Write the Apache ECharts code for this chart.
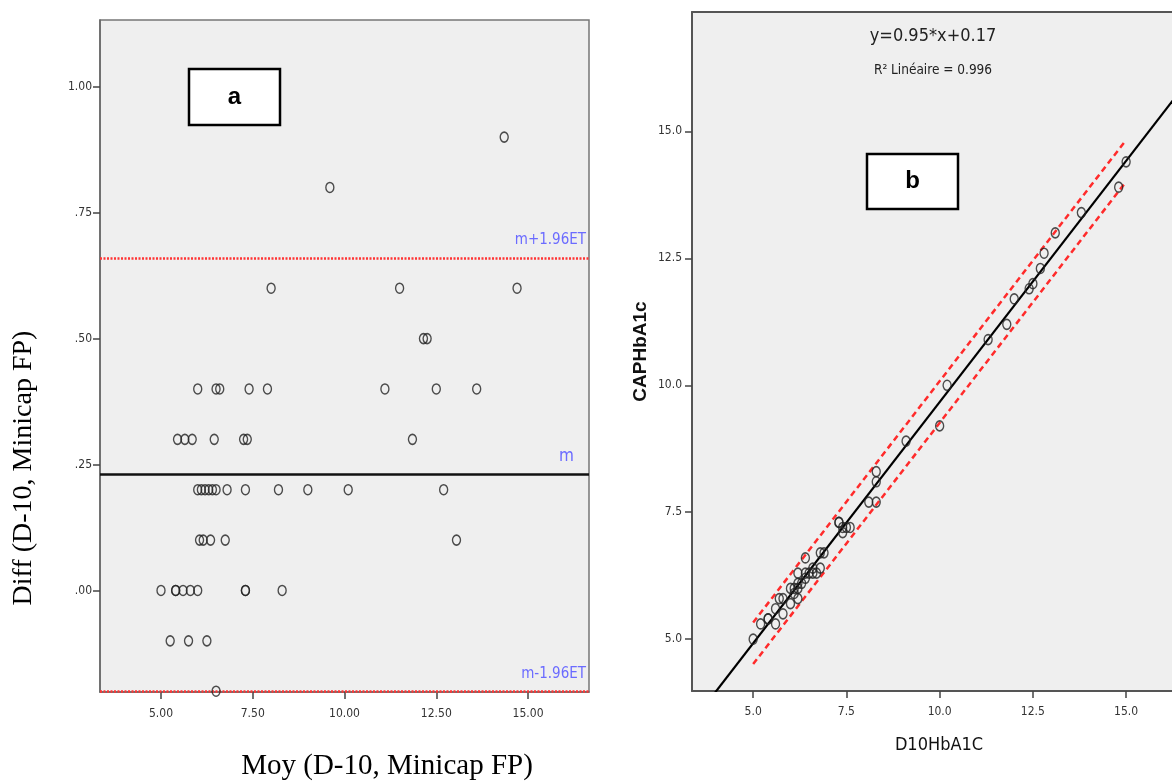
<!DOCTYPE html>
<html><head><meta charset="utf-8">
<script src="https://cdn.jsdelivr.net/npm/echarts@6/dist/echarts.min.js"></script>
<style>html,body{margin:0;padding:0;background:#fff}#c{width:1172px;height:782px}</style>
</head><body><div id="c"></div>
<script>
// ---- Panel a : Bland-Altman (mean vs difference) ----
const moy  = [14.70,14.35,13.60,13.05,12.70,12.50,12.25,12.15,11.85,11.50,11.10,10.10,9.60,9.00,8.30,8.20,8.00,7.90,7.40,7.35,7.25,7.30,7.30,7.30,6.80,6.75,6.60,6.50,6.50,6.45,6.40,6.50,6.35,6.30,6.20,6.25,6.15,6.10,6.00,6.05,6.00,6.00,5.85,5.80,5.65,5.75,5.60,5.45,5.40,5.40,5.25,5.00];
const diff = [0.6,0.9,0.4,0.1,0.2,0.4,0.5,0.5,0.3,0.6,0.4,0.2,0.8,0.2,0.0,0.2,0.6,0.4,0.4,0.3,0.3,0.2,0.0,0.0,0.2,0.1,0.4,0.4,0.2,0.3,0.2,-0.2,0.1,0.2,0.2,-0.1,0.1,0.2,0.4,0.1,0.2,0.0,0.3,0.0,0.3,-0.1,0.0,0.3,0.0,0.0,-0.1,0.0];
const xTicksA = [5, 7.5, 10, 12.5, 15];
const yTicksA = [0, 0.25, 0.5, 0.75, 1];
const meanDiff = 0.23, upperLoA = 0.66, lowerLoA = -0.20;

// ---- Panel b : regression D10 vs CAP ----
const d10 = [15.0,14.8,13.8,13.1,12.8,12.7,12.5,12.4,12.0,11.8,11.3,10.2,10.0,9.1,8.3,8.3,8.3,8.1,7.6,7.5,7.4,7.4,7.3,7.3,6.9,6.8,6.8,6.7,6.6,6.6,6.5,6.4,6.4,6.4,6.3,6.2,6.2,6.2,6.2,6.1,6.1,6.0,6.0,5.8,5.8,5.7,5.6,5.6,5.4,5.4,5.2,5.0];
const cap = [14.4,13.9,13.4,13.0,12.6,12.3,12.0,11.9,11.7,11.2,10.9,10.0,9.2,8.9,8.3,8.1,7.7,7.7,7.2,7.2,7.1,7.2,7.3,7.3,6.7,6.7,6.4,6.3,6.4,6.3,6.3,6.6,6.3,6.2,6.1,6.3,6.1,6.0,5.8,6.0,5.9,6.0,5.7,5.8,5.5,5.8,5.6,5.3,5.4,5.4,5.3,5.0];
const xTicksB = [5, 7.5, 10, 12.5, 15];
const yTicksB = [5, 7.5, 10, 12.5, 15];
const fitSlope = 0.95, fitIntercept = 0.17, r2 = 0.996;
const fitX = [3.9, 18];
const predUpper = [[5.0, 5.33], [15.0, 14.83]];
const predLower = [[5.0, 4.51], [15.0, 14.01]];

const NARROW = '"Liberation Sans Narrow","DejaVu Sans Condensed","Roboto Condensed",sans-serif';
const SERIF = '"Liberation Serif","Times New Roman",serif';
const SANS = '"Liberation Sans",Arial,sans-serif';
const ring = 'path://M10,0A10,10,0,1,1,10,20A10,10,0,1,1,10,0Z';

const chart = echarts.init(document.getElementById('c'), null, {renderer: 'canvas'});

const tickLbl = (vals, fmt, margin) => ({
  customValues: vals, formatter: fmt, fontFamily: NARROW, fontSize: 12, color: '#333', margin: margin
});
const redDot = {color: '#ff3535', type: [2, 1.5], width: 2.5};
const ringStyle = {color: 'rgba(0,0,0,0)', borderColor: '#222', borderWidth: 1.5};

chart.setOption({
  animation: false,
  backgroundColor: '#ffffff',
  grid: [
    {left: 100, top: 20, width: 489, height: 672, outerBoundsMode: 'none', containLabel: false,
     show: true, backgroundColor: '#efefef', borderColor: '#777', borderWidth: 1.5},
    {left: 692, top: 12, width: 480, height: 679, outerBoundsMode: 'none', containLabel: false,
     show: true, backgroundColor: '#efefef', borderWidth: 0}
  ],
  xAxis: [
    {gridIndex: 0, type: 'value', min: 3.338, max: 16.66,
     axisLine: {show: true, onZero: false, lineStyle: {color: '#666', width: 1.5}},
     axisTick: {show: true, length: 7, customValues: xTicksA, lineStyle: {color: '#444', width: 1.5}},
     axisLabel: tickLbl(xTicksA, v => v.toFixed(2), 16),
     splitLine: {show: false},
     name: 'Moy (D-10, Minicap FP)', nameLocation: 'middle', nameGap: 60,
     nameTextStyle: {fontFamily: SERIF, fontSize: 29, color: '#000', padding: [0, 0, 0, 85]}},
    {gridIndex: 1, type: 'value', min: 3.36, max: 16.23,
     axisLine: {show: true, onZero: false, lineStyle: {color: '#555', width: 2}},
     axisTick: {show: true, length: 7, customValues: xTicksB, lineStyle: {color: '#444', width: 1.5}},
     axisLabel: tickLbl(xTicksB, v => v.toFixed(1), 15),
     splitLine: {show: false},
     name: 'D10HbA1C', nameLocation: 'middle', nameGap: 45,
     nameTextStyle: {fontFamily: NARROW, fontSize: 18, color: '#111', padding: [0, 0, 0, 14]}},
    {gridIndex: 1, type: 'value', position: 'top', min: 3.36, max: 16.23,
     axisLine: {show: true, onZero: false, lineStyle: {color: '#555', width: 2}},
     axisTick: {show: false}, axisLabel: {show: false}, splitLine: {show: false}}
  ],
  yAxis: [
    {gridIndex: 0, type: 'value', min: -0.2015, max: 1.1325,
     axisLine: {show: true, onZero: false, lineStyle: {color: '#666', width: 1.5}},
     axisTick: {show: true, length: 7, customValues: yTicksA, lineStyle: {color: '#444', width: 1.5}},
     axisLabel: tickLbl(yTicksA, v => v.toFixed(2).replace(/^(-?)0\./, '$1.'), 8),
     splitLine: {show: false},
     name: 'Diff (D-10, Minicap FP)', nameLocation: 'middle', nameGap: 62,
     nameTextStyle: {fontFamily: SERIF, fontSize: 28, color: '#000', padding: [0, 224, 0, 0]}},
    {gridIndex: 1, type: 'value', min: 3.98, max: 17.35,
     axisLine: {show: true, onZero: false, lineStyle: {color: '#555', width: 2}},
     axisTick: {show: true, length: 7, customValues: yTicksB, lineStyle: {color: '#444', width: 1.5}},
     axisLabel: tickLbl(yTicksB, v => v.toFixed(1), 10),
     splitLine: {show: false},
     name: 'CAPHbA1c', nameLocation: 'middle', nameGap: 42,
     nameTextStyle: {fontFamily: SANS, fontWeight: 'bold', fontSize: 19, color: '#111'}}
  ],
  series: [
    {type: 'line', xAxisIndex: 0, yAxisIndex: 0, data: [], silent: true,
     markLine: {symbol: 'none', silent: true, animation: false,
       label: {position: 'insideEndTop', color: '#6b6bff', fontFamily: NARROW, fontSize: 15, distance: [3, 10]},
       data: [
         {yAxis: upperLoA, lineStyle: redDot, label: {formatter: 'm+1.96ET'}},
         {yAxis: meanDiff, lineStyle: {color: '#111', type: 'solid', width: 2.5}, label: {formatter: 'm', fontSize: 17, padding: [0, 12, 0, 0]}},
         {yAxis: lowerLoA, lineStyle: redDot, label: {formatter: 'm-1.96ET'}}
       ]}},
    {type: 'scatter', xAxisIndex: 0, yAxisIndex: 0, z: 5,
     data: moy.map((m, i) => [m, diff[i]]),
     symbol: ring, symbolSize: [8, 10], itemStyle: ringStyle},
    {type: 'line', xAxisIndex: 1, yAxisIndex: 1, showSymbol: false, clip: true,
     data: fitX.map(x => [x, fitSlope * x + fitIntercept]),
     lineStyle: {color: '#000', width: 2.2}},
    {type: 'line', xAxisIndex: 1, yAxisIndex: 1, showSymbol: false, data: predUpper,
     lineStyle: {color: '#ff2b2b', width: 2.5, type: [6, 4]}},
    {type: 'line', xAxisIndex: 1, yAxisIndex: 1, showSymbol: false, data: predLower,
     lineStyle: {color: '#ff2b2b', width: 2.5, type: [6, 4]}},
    {type: 'scatter', xAxisIndex: 1, yAxisIndex: 1, z: 5,
     data: d10.map((x, i) => [x, cap[i]]),
     symbol: ring, symbolSize: [8, 10], itemStyle: ringStyle}
  ],
  graphic: [
    {type: 'rect', z: 100, shape: {x: 189, y: 69, width: 91, height: 56}, style: {fill: '#fff', stroke: '#000', lineWidth: 2.5}},
    {type: 'text', z: 101, x: 234.5, y: 97, style: {text: 'a', font: 'bold 24px ' + SANS, fill: '#000', align: 'center', verticalAlign: 'middle'}},
    {type: 'rect', z: 100, shape: {x: 867, y: 154, width: 91, height: 55}, style: {fill: '#fff', stroke: '#000', lineWidth: 2.5}},
    {type: 'text', z: 101, x: 912.5, y: 181, style: {text: 'b', font: 'bold 24px ' + SANS, fill: '#000', align: 'center', verticalAlign: 'middle'}},
    {type: 'text', z: 101, x: 933, y: 36, style: {text: 'y=' + fitSlope + '*x+' + fitIntercept, font: '18px ' + NARROW, fill: '#222', align: 'center', verticalAlign: 'middle'}},
    {type: 'text', z: 101, x: 933, y: 70, style: {text: 'R\u00B2 Linéaire = ' + r2, font: '13.5px ' + NARROW, fill: '#222', align: 'center', verticalAlign: 'middle'}}
  ]
});
</script></body></html>
